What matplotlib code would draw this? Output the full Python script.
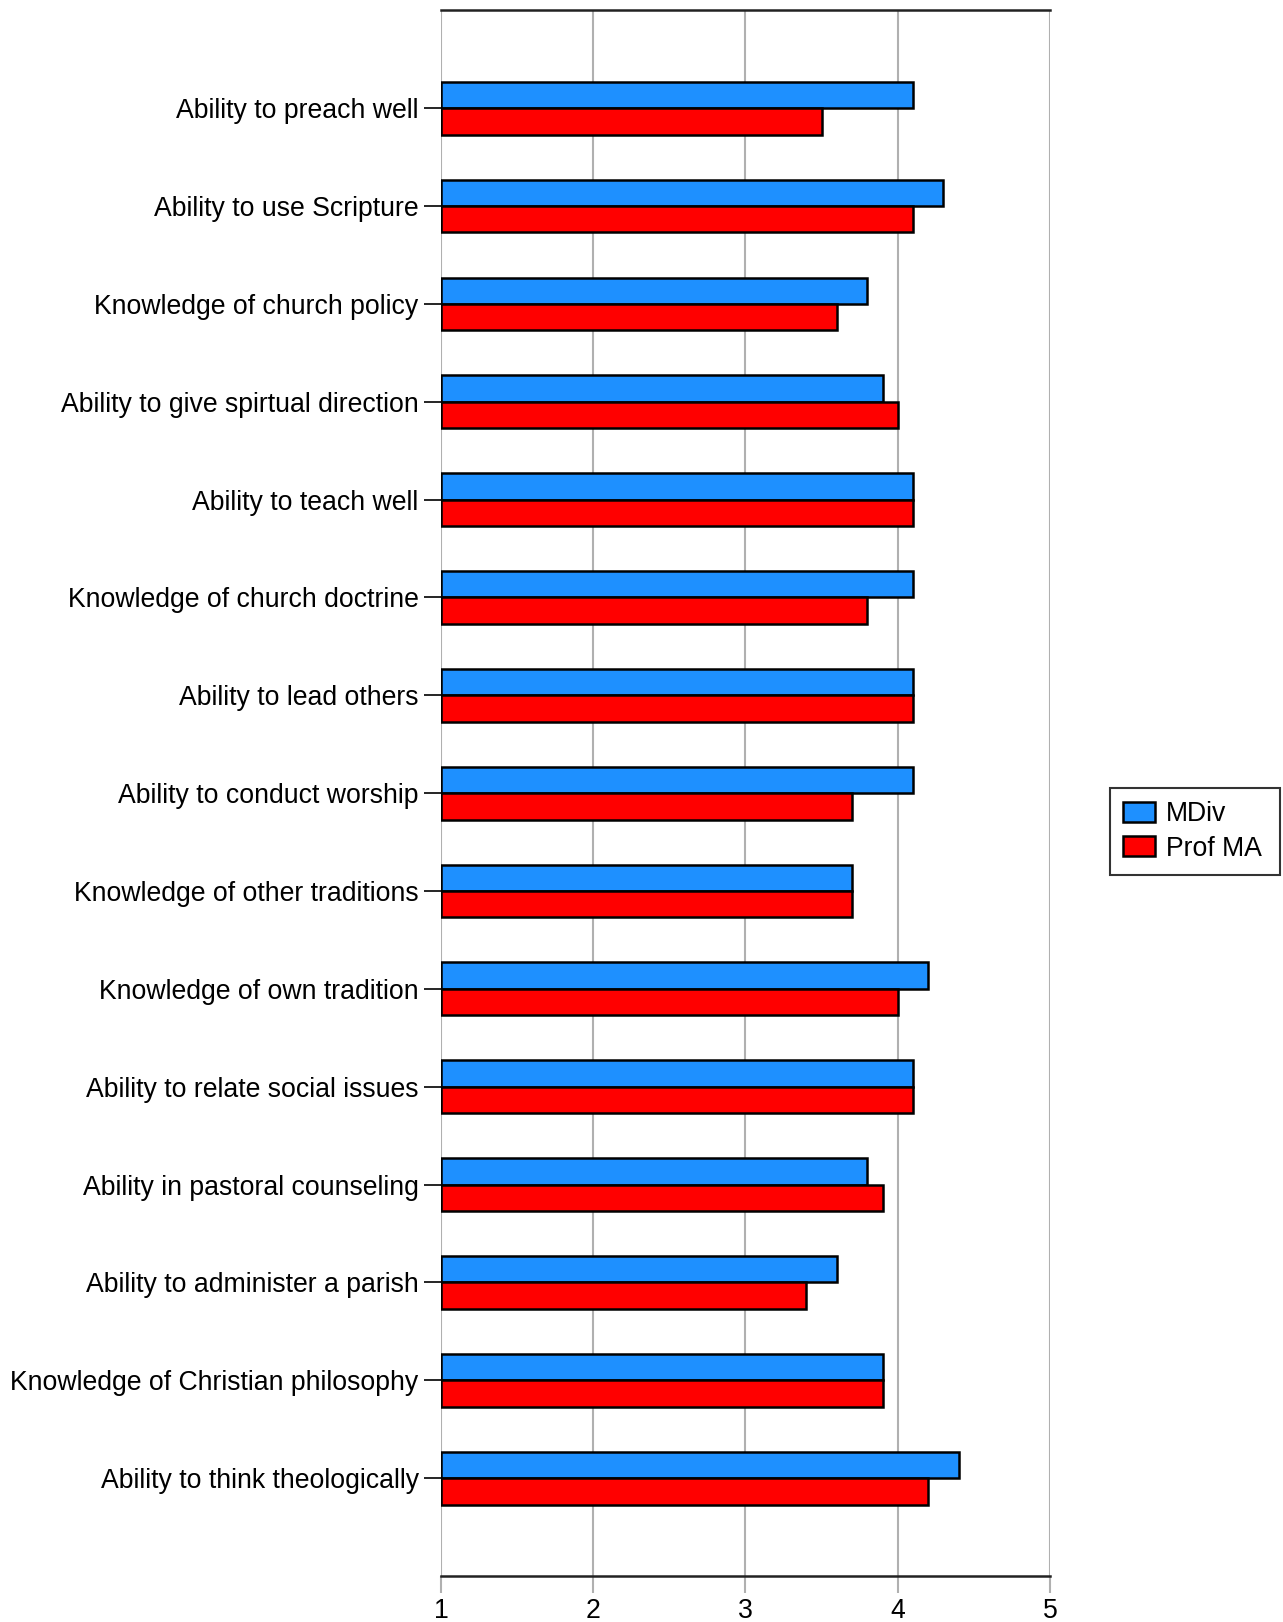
import matplotlib.pyplot as plt
import numpy as np

plt.rcParams['font.family'] = ['Liberation Sans', 'DejaVu Sans']

categories = ["Ability to preach well", "Ability to use Scripture",
              "Knowledge of church policy", "Ability to give spirtual direction",
              "Ability to teach well", "Knowledge of church doctrine",
              "Ability to lead others", "Ability to conduct worship",
              "Knowledge of other traditions", "Knowledge of own tradition",
              "Ability to relate social issues", "Ability in pastoral counseling",
              "Ability to administer a parish", "Knowledge of Christian philosophy",
              "Ability to think theologically"]
mdiv = [4.1, 4.3, 3.8, 3.9, 4.1, 4.1, 4.1, 4.1, 3.7, 4.2, 4.1, 3.8, 3.6, 3.9, 4.4]
prof_ma = [3.5, 4.1, 3.6, 4.0, 4.1, 3.8, 4.1, 3.7, 3.7, 4.0, 4.1, 3.9, 3.4, 3.9, 4.2]
xticks = [1, 2, 3, 4, 5]

fs = 19.2

fig = plt.figure(figsize=(12.83, 16.22), dpi=100)
ax = fig.add_axes([0.3437, 0.0284, 0.8184 - 0.3437, 0.9936 - 0.0284])

y = np.arange(len(categories))
h = 0.27
base = 1
ax.barh(y - h / 2, np.array(mdiv) - base, left=base, height=h, color='#1e90ff',
        edgecolor='black', linewidth=1.8, label='MDiv', zorder=3)
ax.barh(y + h / 2, np.array(prof_ma) - base, left=base, height=h, color='#ff0000',
        edgecolor='black', linewidth=1.8, label='Prof MA', zorder=3)

ax.set_xlim(1, 5)
ax.set_ylim(len(categories), -1)
ax.set_yticks(y)
ax.set_yticklabels(categories, fontsize=fs)
ax.set_xticks(xticks)
ax.set_xticklabels([str(t) for t in xticks], fontsize=fs)
ax.xaxis.grid(True, color='#b0b0b0', linewidth=1.5, zorder=0)
ax.tick_params(axis='x', length=12, color='#b0b0b0', width=1.5, pad=4)
ax.tick_params(axis='y', length=12, color='black', width=1.2, pad=4)

for s in ['left', 'right']:
    ax.spines[s].set_visible(False)
for s in ['top', 'bottom']:
    ax.spines[s].set_color('#222222')
    ax.spines[s].set_linewidth(1.8)

leg = fig.legend(loc='center left', bbox_to_anchor=(0.8652, 0.4725, 0.1325, 0.03),
                 mode='expand', fontsize=fs,
                 frameon=True, fancybox=False, edgecolor='black', handlelength=1.2,
                 handleheight=0.8, borderpad=0.5, labelspacing=0.32,
                 handletextpad=0.4, borderaxespad=0)
leg.get_frame().set_linewidth(1.5)

fig.savefig('out.png', dpi=100)
